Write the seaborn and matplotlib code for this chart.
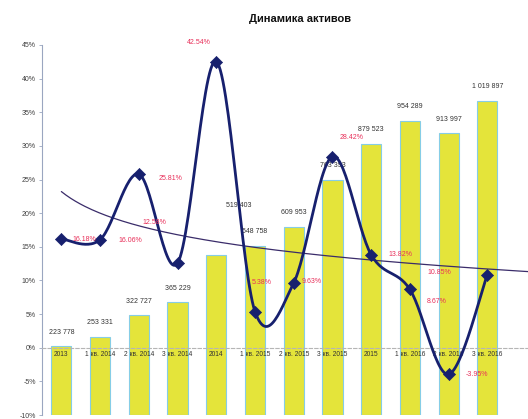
import numpy as np
import pandas as pd
import matplotlib
matplotlib.use("Agg")
import matplotlib.pyplot as plt
import seaborn as sns

# ---- data ----
categories = ["2013", "1 кв. 2014", "2 кв. 2014", "3 кв. 2014", "2014",
              "1 кв. 2015", "2 кв. 2015", "3 кв. 2015", "2015",
              "1 кв. 2016", "2 кв. 2016", "3 кв. 2016"]
assets = [223778, 253331, 322727, 365229, 519403, 548758, 609953,
          763393, 879523, 954289, 913997, 1019897]
growth = [16.18, 16.06, 25.81, 12.58, 42.54, 5.38, 9.63, 28.42,
          13.82, 8.67, -3.95, 10.85]
y_ticks = [-10, -5, 0, 5, 10, 15, 20, 25, 30, 35, 40, 45]
title = "Динамика активов"

# ---- label placement (pixels) ----
pct_offsets = [(23, -1), (30, -1), (32, -4), (-23, 41), (-17, 19), (7, 29),
               (18, 1), (19, 19), (29, 0), (27, -12), (28, 0), (-48, 2)]
bar_offsets = [(0, 14)] * 12
bar_offsets[4] = (22, 49)

sns.set_theme(style="white")
plt.rcParams["font.family"] = ["Liberation Sans", "DejaVu Sans"]

fig = plt.figure(figsize=(5.28, 4.19), dpi=100)
ax = fig.add_axes([42 / 528, 4 / 419, 1 - 42 / 528, (415 - 45) / 419])
ax2 = ax.twinx()

df = pd.DataFrame({"cat": categories, "assets": assets, "growth": growth})

# bars on secondary axis
sns.barplot(data=df, x="cat", y="assets", ax=ax2, color="#e4e43a",
            width=0.52, edgecolor="#86cde6", linewidth=0.8, saturation=1)
ax2.set_ylim(0, 1200000)
ax2.set_yticks([])
ax2.set_ylabel("")
ax2.set_xlabel("")
for s in ax2.spines.values():
    s.set_visible(False)
for i, v in enumerate(assets):
    ax2.annotate(f"{v:,}".replace(",", " "), (i, v), xytext=bar_offsets[i],
                 textcoords="offset pixels", ha="center", va="center",
                 fontsize=5, color="#333333")

# line on primary axis drawn above bars
ax.set_zorder(ax2.get_zorder() + 1)
ax.patch.set_visible(False)

x = np.arange(len(growth), dtype=float)
y = np.array(growth, dtype=float)
# smoothed (Bezier / Catmull-Rom) curve through data points
px = np.concatenate([[x[0]], x, [x[-1]]])
py = np.concatenate([[y[0]], y, [y[-1]]])
cx, cy = [], []
t = np.linspace(0, 1, 30)
for i in range(len(x) - 1):
    p0 = np.array([x[i], y[i]])
    p3 = np.array([x[i + 1], y[i + 1]])
    p1 = p0 + (np.array([px[i + 2], py[i + 2]]) - np.array([px[i], py[i]])) / 6
    p2 = p3 - (np.array([px[i + 3], py[i + 3]]) - np.array([px[i + 1], py[i + 1]])) / 6
    b = ((1 - t) ** 3)[:, None] * p0 + (3 * (1 - t) ** 2 * t)[:, None] * p1 \
        + (3 * (1 - t) * t ** 2)[:, None] * p2 + (t ** 3)[:, None] * p3
    cx.extend(b[:, 0]); cy.extend(b[:, 1])
sns.lineplot(x=cx, y=cy, ax=ax, color="#17206e", linewidth=2.0, sort=False,
             estimator=None, zorder=3)
sns.scatterplot(x=x, y=y, ax=ax, marker="D", s=38, color="#17206e",
                edgecolor="#17206e", zorder=4)

# logarithmic trendline
b_, a_ = np.polyfit(np.log(x + 1), y, 1)
tx = np.linspace(0, 12.05, 200)
ax.plot(tx, a_ + b_ * np.log(tx + 1), color="#3a2c6a", linewidth=0.9, zorder=2)

for i, v in enumerate(growth):
    ax.annotate(f"{v:.2f}%", (i, v), xytext=pct_offsets[i],
                textcoords="offset pixels", ha="center", va="center",
                fontsize=5, color="#e8305a", zorder=5)

ax2.xaxis.set_visible(False)
ax.set_xlim(-0.5, 12.05)
ax.set_ylim(-10, 45)
ax.set_yticks(y_ticks)
ax.set_yticklabels([f"{v}%" for v in y_ticks])
ax.set_xticks(range(len(categories)))
ax.set_xticklabels(categories)
ax.tick_params(axis="x", length=0, pad=2, bottom=True, labelbottom=True,
               labelsize=4.8, labelcolor="#333333")
ax.tick_params(axis="y", length=2.5, width=0.6, color="#9aa6c0", pad=2,
               left=True, labelsize=5, labelcolor="#404040")
ax.spines["bottom"].set_position(("data", 0))
ax.spines["bottom"].set_linestyle((0, (3, 2)))
ax.spines["bottom"].set_color("#b5b5b5")
ax.spines["bottom"].set_linewidth(0.8)
ax.spines["left"].set_color("#9aa6c0")
ax.spines["left"].set_linewidth(0.8)
ax.spines["top"].set_visible(False)
ax.spines["right"].set_visible(False)
ax.set_xlabel("")
ax.set_ylabel("")
ax.grid(False)
ax2.grid(False)

fig.text(0.568, 0.955, title, ha="center", va="center", fontsize=8,
         fontweight="bold", color="#111111")

fig.savefig("out.png", dpi=100)
